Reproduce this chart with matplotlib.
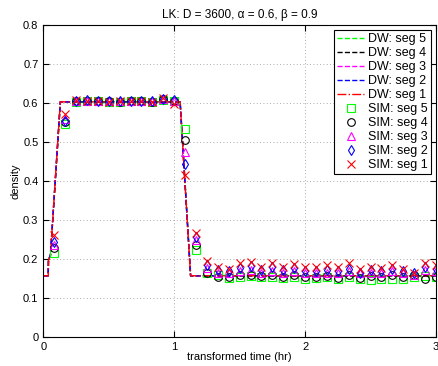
import numpy as np
import matplotlib
matplotlib.use('Agg')
import matplotlib.pyplot as plt

plt.rcParams['font.family'] = ['Liberation Sans', 'DejaVu Sans']
plt.rcParams['font.size'] = 8

# sample times of the simulation (every 5 minutes)
t_sim = np.arange(5, 181, 5) / 60.0

plateau = {
    1: [.607, .606, .604, .603, .605, .604, .606, .603, .612, .598],
    2: [.606, .607, .606, .605, .604, .606, .605, .604, .611, .608],
    3: [.605, .606, .605, .604, .605, .605, .604, .604, .610, .605],
    4: [.604, .606, .605, .604, .602, .605, .605, .603, .609, .606],
    5: [.603, .605, .604, .603, .603, .604, .604, .602, .608, .605],
}
rise = {1: [.262, .573], 2: [.244, .555], 3: [.236, .558], 4: [.228, .552], 5: [.215, .545]}
fall = {1: [.415, .266, .195, .180], 2: [.444, .257, .185, .172],
        3: [.475, .249, .177, .165], 4: [.505, .236, .165, .155],
        5: [.533, .223, .165, .158]}
tail = {
    1: [.175, .19, .193, .18, .19, .18, .186, .18, .18, .185,
        .18, .19, .175, .18, .178, .185, .175, .165, .19, .185],
    2: [.168, .178, .182, .172, .18, .172, .176, .17, .168, .172,
        .17, .175, .165, .172, .17, .175, .168, .165, .18, .175],
    3: [.163, .168, .172, .165, .168, .165, .168, .163, .163, .165,
        .165, .168, .163, .165, .163, .168, .163, .16, .172, .168],
    4: [.155, .158, .16, .157, .16, .155, .158, .155, .155, .157,
        .152, .158, .152, .156, .155, .158, .155, .158, .15, .155],
    5: [.152, .155, .157, .153, .155, .152, .154, .15, .152, .153,
        .15, .153, .148, .147, .15, .148, .15, .155, .157, .153],
}

# density wave model curves
dw_t = {
    1: [0, 0.038, 0.040, 0.055, 0.13, 1.045, 1.125, 3.0],
    2: [0, 0.038, 0.040, 0.055, 0.13, 1.045, 1.125, 3.0],
    3: [0, 0.036, 0.039, 0.054, 0.13, 1.046, 1.126, 3.0],
    4: [0, 0.037, 0.040, 0.055, 0.131, 1.045, 1.125, 3.0],
    5: [0, 0.036, 0.039, 0.054, 0.131, 1.046, 1.127, 3.0],
}
dw_y = [0.157, 0.157, 0.197, 0.21, 0.603, 0.603, 0.157, 0.157]

line_styles = {5: ('#00ff00', '--'), 4: ('k', '--'), 3: ('#ff00ff', '--'),
               2: ('#0000ff', '--'), 1: ('#ff0000', '-.')}
marker_styles = {5: ('#00ff00', 's'), 4: ('k', 'o'), 3: ('#ff00ff', '^'),
                 2: ('#0000ff', 'd'), 1: ('#ff0000', 'x')}

fig = plt.figure(figsize=(4.39, 3.66), dpi=100)
ax = fig.add_axes([0.0986, 0.0792, 0.8946, 0.8525])

for s in [5, 4, 3, 2, 1]:
    c, ls = line_styles[s]
    ax.plot(dw_t[s], dw_y, color=c, linestyle=ls, linewidth=1.0,
            label='DW: seg %d' % s)

for s in [5, 4, 3, 2, 1]:
    c, mk = marker_styles[s]
    vals = rise[s] + plateau[s] + fall[s] + tail[s]
    ax.plot(t_sim, vals, linestyle='none', marker=mk, markersize=5.5,
            markerfacecolor='none', markeredgecolor=c, markeredgewidth=0.8,
            label='SIM: seg %d' % s)

ax.set_xlim(0, 3)
ax.set_ylim(0, 0.8)
ax.set_xticks([0, 1, 2, 3])
ax.set_yticks(np.arange(0, 0.81, 0.1))
ax.set_yticklabels(['0', '0.1', '0.2', '0.3', '0.4', '0.5', '0.6', '0.7', '0.8'])
ax.grid(True, color='#909090', linestyle=(0, (1, 3)), linewidth=0.6)
ax.tick_params(direction='in', top=True, right=True, length=4, width=0.8)
for sp in ax.spines.values():
    sp.set_linewidth(0.8)

ax.set_xlabel('transformed time (hr)', labelpad=0)
ax.set_ylabel('density', labelpad=2)
ax.set_title('LK: D = 3600, α = 0.6, β = 0.9', fontsize=8.5, pad=5)

leg = ax.legend(loc='upper right', fontsize=9, fancybox=False, framealpha=1,
                edgecolor='k', borderaxespad=0.4, handlelength=2.2,
                labelspacing=0.16, borderpad=0.25, handletextpad=0.3)
leg.get_frame().set_linewidth(0.8)

fig.savefig('out.png', dpi=100)
